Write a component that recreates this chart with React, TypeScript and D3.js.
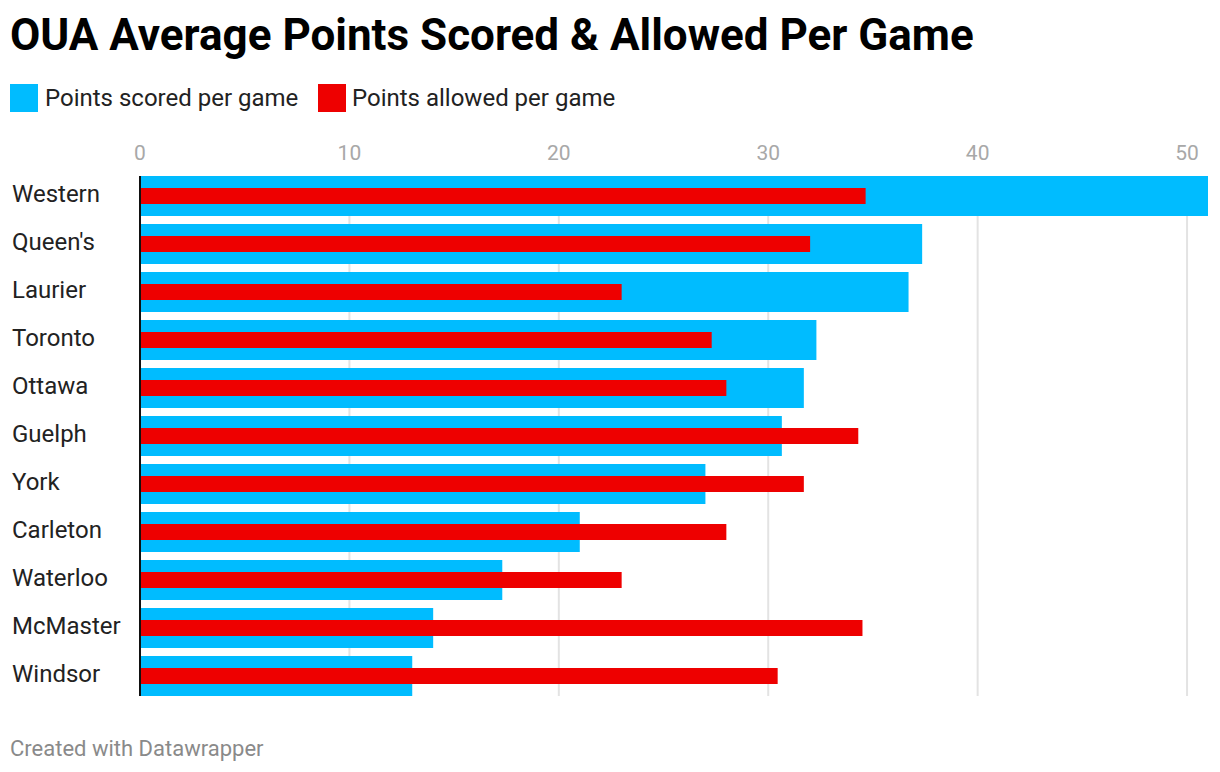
import React, { useEffect } from "react";
import * as d3 from "d3";

const teams = [
  "Western",
  "Queen's",
  "Laurier",
  "Toronto",
  "Ottawa",
  "Guelph",
  "York",
  "Carleton",
  "Waterloo",
  "McMaster",
  "Windsor",
];
const scored = [51.0, 37.35, 36.7, 32.3, 31.7, 30.65, 27.0, 21.0, 17.3, 14.0, 13.0];
const allowed = [34.65, 32.0, 23.0, 27.3, 28.0, 34.3, 31.7, 28.0, 23.0, 34.5, 30.45];
const ticks = [0, 10, 20, 30, 40, 50];

const BLUE = "#00bcff";
const RED = "#ee0000";
const FONT = "Roboto, 'Noto Sans', sans-serif";

export default function App() {
  useEffect(() => {
    document.body.style.margin = "0";
  }, []);

  const width = 1220;
  const height = 772;
  const x = d3.scaleLinear().domain([0, 51]).range([140, 1208]);
  const y = d3
    .scaleBand<string>()
    .domain(teams)
    .range([172, 700])
    .paddingInner(1 / 6)
    .paddingOuter(1 / 12);
  const bw = y.bandwidth();
  const redH = 16;

  return (
    <svg width={width} height={height} style={{ display: "block", fontFamily: FONT }}>
      <rect width={width} height={height} fill="#fff" />
      <text x={10} y={50} fontSize={44} fontWeight={700} fill="#000">
        OUA Average Points Scored &amp; Allowed Per Game
      </text>

      <rect x={10} y={84} width={28} height={28} fill={BLUE} />
      <text x={45} y={106} fontSize={24} fill="#222">
        Points scored per game
      </text>
      <rect x={318} y={84} width={28} height={28} fill={RED} />
      <text x={352} y={106} fontSize={24} fill="#222">
        Points allowed per game
      </text>

      {ticks.map((t) => (
        <g key={t}>
          <line
            x1={x(t)}
            x2={x(t)}
            y1={176}
            y2={696}
            stroke="#e3e3e3"
            strokeWidth={2}
          />
          <text
            x={x(t)}
            y={160}
            textAnchor="middle"
            fontSize={21}
            fill="#a8a8a8"
          >
            {t}
          </text>
        </g>
      ))}

      {teams.map((team, i) => {
        const y0 = y(team) ?? 0;
        return (
          <g key={team}>
            <text x={12} y={y0 + bw / 2 + 6} fontSize={24} fill="#222">
              {team}
            </text>
            <rect
              x={x(0)}
              y={y0}
              width={x(scored[i]) - x(0)}
              height={bw}
              fill={BLUE}
            />
            <rect
              x={x(0)}
              y={y0 + (bw - redH) / 2}
              width={x(allowed[i]) - x(0)}
              height={redH}
              fill={RED}
            />
          </g>
        );
      })}

      <line x1={x(0)} x2={x(0)} y1={176} y2={696} stroke="#111" strokeWidth={2} />

      <text x={10} y={756} fontSize={22} fill="#8a8a8a">
        Created with Datawrapper
      </text>
    </svg>
  );
}
